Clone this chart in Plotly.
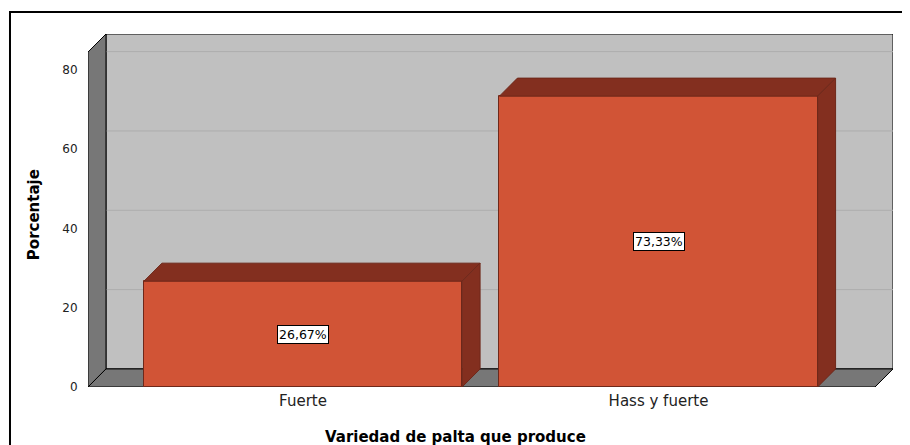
"""
plot.py
SPSS-style pseudo-3D bar chart rebuilt in Plotly.
"""

import plotly.graph_objects as go

# ── Data ───────────────────────────────────────────────────────────────────────
categories  = ["Fuerte", "Hass y fuerte"]
percentages = [26.67, 73.33]
y_ticks     = [0, 20, 40, 60, 80]

# ── Palette ────────────────────────────────────────────────────────────────────
FRONT   = "#D15436"
DARK    = "#832F1F"
EDGE    = "#6E281A"
BACK    = "#C0C0C0"
WALL    = "#777777"
GRIDB   = "#ADADAD"
GRIDW   = "#9E9E9E"
TEXT    = "#222222"
FONT    = "DejaVu Sans, sans-serif"

# ── Geometry (data units) ──────────────────────────────────────────────────────
X_LO, X_HI = -0.6048, 1.6596     # x axis range
Y_LO, Y_HI = 0.0, 89.0           # y axis range
DX, DY     = 0.0506, 4.55        # depth offset of the 3-D box
BAR_W      = 0.895

xl_f, xl_b = X_LO, X_LO + DX     # left wall front / back
xr_b       = X_HI                # back wall right
xr_f       = X_HI - DX           # floor front right
y_top_b    = Y_HI
y_top_f    = Y_HI - DY


def poly(pts):
    return "M " + " L ".join(f"{x},{y}" for x, y in pts) + " Z"


shapes = []
# back wall
shapes.append(dict(type="path", layer="below", xref="x", yref="y",
                   path=poly([(xl_b, DY), (xr_b, DY), (xr_b, y_top_b), (xl_b, y_top_b)]),
                   fillcolor=BACK, line=dict(color="black", width=1)))
# gridlines: diagonal on left wall, straight on back wall
for t in y_ticks[1:]:
    shapes.append(dict(type="line", layer="below", xref="x", yref="y",
                       x0=xl_f, y0=t, x1=xl_b, y1=t + DY,
                       line=dict(color=GRIDW, width=1)))
    shapes.append(dict(type="line", layer="below", xref="x", yref="y",
                       x0=xl_b, y0=t + DY, x1=xr_b, y1=t + DY,
                       line=dict(color=GRIDB, width=1)))
# left wall
shapes.append(dict(type="path", layer="below", xref="x", yref="y",
                   path=poly([(xl_f, 0), (xl_b, DY), (xl_b, y_top_b), (xl_f, y_top_f)]),
                   fillcolor=WALL, line=dict(color="black", width=1)))
# floor
shapes.append(dict(type="path", layer="below", xref="x", yref="y",
                   path=poly([(xl_f, 0), (xr_f, 0), (xr_b, DY), (xl_b, DY)]),
                   fillcolor=WALL, line=dict(color="black", width=1)))
# outer frame
shapes.append(dict(type="rect", xref="paper", yref="paper", layer="above",
                   x0=-0.0969, x1=1.05, y0=-0.3, y1=1.0623,
                   line=dict(color="black", width=2)))

fig = go.Figure()

# front faces
fig.add_trace(go.Bar(
    x=list(range(len(categories))), y=percentages, width=BAR_W,
    marker=dict(color=FRONT, line=dict(color=EDGE, width=1)),
    hoverinfo="skip", showlegend=False,
))

# top and side faces
for i, v in enumerate(percentages):
    x0, x1 = i - BAR_W / 2, i + BAR_W / 2
    top = [(x0, v), (x0 + DX, v + DY), (x1 + DX, v + DY), (x1, v), (x0, v)]
    side = [(x1, 0), (x1 + DX, DY), (x1 + DX, v + DY), (x1, v), (x1, 0)]
    for pts in (top, side):
        fig.add_trace(go.Scatter(
            x=[p[0] for p in pts], y=[p[1] for p in pts],
            mode="lines", fill="toself", fillcolor=DARK,
            line=dict(color=EDGE, width=1),
            hoverinfo="skip", showlegend=False,
        ))

annotations = []
for i, v in enumerate(percentages):
    annotations.append(dict(
        x=i, y=v / 2, xref="x", yref="y", showarrow=False,
        text=f"{v:.2f}%".replace(".", ","),
        font=dict(family=FONT, size=12.5, color="black"),
        bgcolor="white", bordercolor="black", borderwidth=1, borderpad=1,
    ))
annotations.append(dict(
    x=-0.067, y=0.487, xref="paper", yref="paper", showarrow=False,
    xanchor="center", yanchor="middle",
    text="<b>Porcentaje</b>", textangle=-90,
    font=dict(family=FONT, size=15, color="black"),
))
annotations.append(dict(
    x=0.456, y=-0.1416, xref="paper", yref="paper", showarrow=False,
    xanchor="center", yanchor="middle",
    text="<b>Variedad de palta que produce</b>",
    font=dict(family=FONT, size=15, color="black"),
))

# page body adds an 8px offset, so the figure is 8px smaller than the window
fig.update_layout(
    width=902, height=437,
    paper_bgcolor="white", plot_bgcolor="white",
    margin=dict(l=80, r=17, t=26, b=58),
    font=dict(family=FONT, color=TEXT),
    xaxis=dict(range=[X_LO, X_HI], tickvals=list(range(len(categories))),
               ticktext=categories, showgrid=False, zeroline=False,
               showline=False, ticks="", tickfont=dict(size=15, color=TEXT),
               ticklabelstandoff=3, fixedrange=True),
    yaxis=dict(range=[Y_LO, Y_HI], tickvals=y_ticks, showgrid=False,
               zeroline=False, showline=False, ticks="outside", ticklen=7,
               tickcolor="rgba(0,0,0,0)", tickfont=dict(size=12, color=TEXT),
               fixedrange=True),
    shapes=shapes, annotations=annotations,
    bargap=0, showlegend=False,
)

fig.write_html("out.html")
